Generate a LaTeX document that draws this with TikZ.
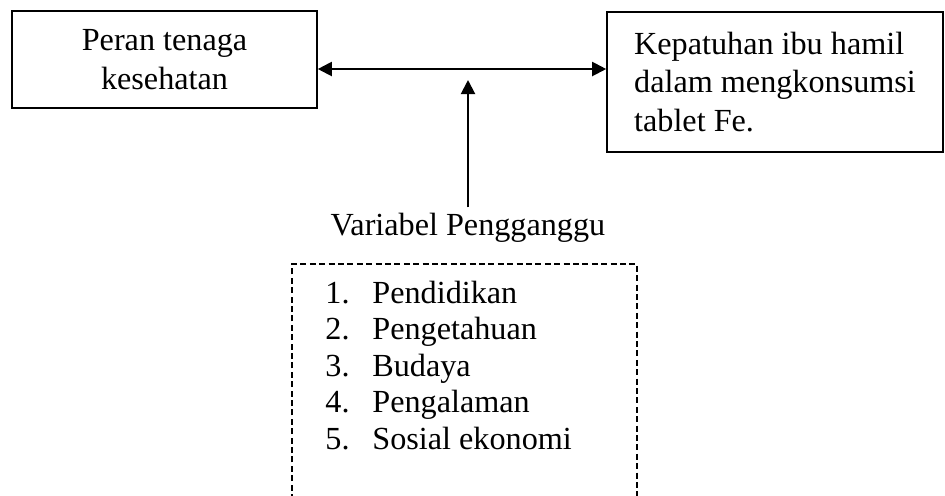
\documentclass[tikz,border=0pt]{standalone}
\usepackage{fontspec}
\setmainfont{Liberation Serif}
\usetikzlibrary{arrows.meta}

\begin{document}
\begin{tikzpicture}[x=0.5pt,y=-0.5pt,
        every node/.style={font=\fontsize{16.1}{19.2}\selectfont},
        kotak/.style={draw,line width=0.8pt},
        panah/.style={line width=1pt,-{Triangle[length=7pt,width=7pt]}},
        panahdua/.style={line width=1pt,{Triangle[length=7pt,width=7pt]}-{Triangle[length=7pt,width=7pt]}},
        putus/.style={line width=0.6pt,dash pattern=on 3pt off 1.7pt},
        butir/.style={anchor=base west,inner sep=0pt}]
        \useasboundingbox (0,0) rectangle (945,495);

        \node[kotak,minimum width=152.5pt,minimum height=48.5pt,align=center] (peran) at (164.5,59.5) {Peran tenaga\\kesehatan};
        \node[kotak,minimum width=168pt,minimum height=70pt,align=left] (kepatuhan) at (775,82) {Kepatuhan ibu hamil\\dalam mengkonsumsi\\tablet Fe.};

        \coordinate (garis) at (0,69);
        \coordinate (puncak) at (468,80);
        \draw[panahdua] (peran.east |- garis) -- (kepatuhan.west |- garis);

        \node[anchor=base,inner ysep=2.5pt] (variabel) at (468,235) {Variabel Pengganggu};
        \draw[panah] (variabel.north -| puncak) -- (puncak);

        \draw[putus] (292,500) -- (292,264) -- (637,264) -- (637,500);
        \foreach \no/\isi [count=\i] in {1/Pendidikan,2/Pengetahuan,3/Budaya,4/Pengalaman,5/Sosial ekonomi} {
            \node[butir] (no\i) at (325,{303+36.5*(\i-1)}) {\no.};
            \node[butir] (isi\i) at (372,{303+36.5*(\i-1)}) {\isi};
        }
    \end{tikzpicture}
\end{document}
